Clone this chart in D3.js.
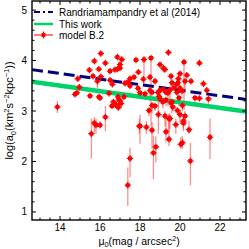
<!DOCTYPE html>
<html><head><meta charset="utf-8">
<script src="https://cdn.jsdelivr.net/npm/d3@7"></script>
<style>body{margin:0;background:#fff}svg{display:block}</style>
</head><body>
<script>
// Data (mu0, log a0, lower end of bar, upper end of bar)
const pointsX = [16.04,16.87,17.09,17.0,16.27,15.72,15.47,15.94,15.65,16.04,16.5,16.75,16.87,17.0,14.89,15.87,16.5,16.62,14.97,14.84,14.75,15.5,16.0,16.45,16.67,16.75,16.84,16.92,16.6,17.0,17.2,16.9,17.25,17.5,17.9,
17.8,18.2,18.55,19.42,19.0,19.17,19.24,20.2,20.97,17.92,18.17,17.7,17.5,17.4,18.5,18.75,19.55,20.0,20.34,19.92,20.25,20.55,21.17,19.84,19.6,19.9,19.17,19.5,19.7,19.85,20.0,20.1,20.75,21.34,21.42,
18.0,18.25,18.5,18.6,18.9,19.0,19.3,19.4,18.95,19.0,19.3,19.55,18.75,18.6,19.14,19.59,19.64,19.95,20.12,20.97,18.92,19.25,19.45,19.5,19.87,20.0,20.17,20.25,18.0,18.32,18.45,18.6,18.79,18.67,19.3,19.45,19.79,20.04,20.12,20.17,20.45,20.52,21.5,
13.87,15.57,15.72,15.8,16.0,16.27,17.5,17.39,17.97,15.95,16.95,17.05];
const pointsY = [4.14,4.07,4.02,3.92,3.95,3.99,3.81,3.83,3.69,3.68,3.79,3.82,3.83,3.85,3.64,3.59,3.61,3.53,3.47,3.36,3.33,3.30,3.26,3.35,3.18,3.14,3.10,3.07,3.10,3.20,3.28,3.28,3.55,3.50,3.45,
4.01,4.02,4.05,4.16,3.92,3.85,3.82,3.97,3.95,3.77,3.63,3.67,3.64,3.57,3.67,3.59,3.69,3.74,3.71,3.64,3.59,3.59,3.54,3.53,3.56,3.56,3.43,3.42,3.46,3.37,3.45,3.40,3.26,3.41,3.24,
3.36,3.34,3.41,3.37,3.37,3.41,3.37,3.36,3.29,3.24,3.22,3.16,3.10,3.11,3.18,3.18,3.08,3.26,3.11,3.25,2.93,2.90,2.85,2.85,3.01,2.93,2.80,2.90,2.70,2.68,3.01,2.62,2.29,2.17,2.59,2.44,2.73,2.34,2.37,2.76,2.63,2.01,2.48,
3.08,2.55,2.76,2.72,2.72,2.88,2.06,1.53,2.70,3.28,3.22,3.15];
const pointsLo = [4.10,4.03,3.98,3.88,3.91,3.95,3.77,3.79,3.65,3.64,3.75,3.78,3.79,3.81,3.60,3.45,3.57,3.49,3.43,3.32,3.29,3.26,3.22,3.31,3.14,3.10,3.06,3.03,3.06,3.16,3.24,3.24,3.51,3.46,3.41,
3.97,3.50,2.70,4.12,3.88,3.81,3.78,3.02,3.91,3.73,3.59,3.63,3.60,3.53,3.63,3.55,3.50,3.70,3.67,3.60,3.40,3.55,3.50,3.49,3.40,3.52,3.39,3.20,3.42,3.30,3.41,3.30,3.15,3.37,3.10,
3.32,3.30,3.20,3.33,3.20,3.37,3.33,3.10,3.25,3.20,3.10,3.05,3.00,2.95,3.05,2.95,3.00,3.10,3.00,3.21,2.55,2.70,2.60,2.65,2.97,2.75,2.65,2.70,2.35,2.55,2.90,2.25,1.98,1.65,2.38,2.30,2.55,2.25,2.25,2.60,2.55,1.53,2.05,
2.96,2.06,2.58,2.55,2.66,2.60,1.68,1.12,2.55,3.24,3.10,3.05];
const pointsHi = [4.18,4.11,4.06,3.96,3.99,4.03,3.85,3.87,3.73,3.72,3.83,3.86,3.87,3.89,3.68,3.63,3.65,3.57,3.51,3.40,3.37,3.34,3.30,3.39,3.22,3.18,3.14,3.11,3.14,3.24,3.32,3.32,3.59,3.54,3.49,
4.05,4.06,4.09,4.20,3.96,3.89,3.86,4.01,3.99,3.81,3.67,3.71,3.68,3.61,3.71,3.63,3.73,3.78,3.75,3.68,3.63,3.63,3.58,3.57,3.60,3.60,3.47,3.46,3.50,3.41,3.49,3.44,3.30,3.45,3.28,
3.40,3.38,3.45,3.41,3.41,3.45,3.41,3.40,3.33,3.28,3.26,3.20,3.14,3.15,3.22,3.22,3.12,3.30,3.15,3.29,3.30,3.00,2.95,2.95,3.05,3.00,2.90,3.00,2.93,2.80,3.05,2.78,2.50,2.50,2.92,2.80,2.85,2.48,2.50,2.90,2.80,2.37,2.85,
3.20,2.85,2.88,2.85,2.80,3.10,2.27,1.88,2.85,3.32,3.30,3.25];
// Fit lines: value at left and right edge
const lineX = [12.6, 23.3];
const randY = [3.82, 3.23];
const thisY = [3.58, 2.99];
const xTicks = [14,16,18,20,22];
const yTicks = [1,2,3,4,5];
const legendLabels = ["Randriamampandry et al (2014)","This work","model B.2"];

const W=249,H=249, m={l:32,r:3,t:1,b:29};
const svg=d3.select("body").append("svg").attr("width",W).attr("height",H)
  .style("font-family","'Liberation Sans',Arial,sans-serif");
const x=d3.scaleLinear().domain([12.6,23.3]).range([m.l,W-m.r]);
const y=d3.scaleLinear().domain([0.84,5.18]).range([H-m.b,m.t]);
const g=svg.append("g");

// error bars
const idx=d3.range(pointsX.length);
g.selectAll("line.eb").data(idx).join("line")
 .attr("x1",i=>x(pointsX[i])).attr("x2",i=>x(pointsX[i]))
 .attr("y1",i=>y(pointsLo[i])).attr("y2",i=>y(pointsHi[i]))
 .attr("stroke","#ff3030").attr("stroke-opacity",0.55).attr("stroke-width",1.3);
// fit lines
g.append("line").attr("x1",x(lineX[0])).attr("x2",x(lineX[1])).attr("y1",y(thisY[0])).attr("y2",y(thisY[1]))
 .attr("stroke","#00d26a").attr("stroke-width",4.5);
g.append("line").attr("x1",x(lineX[0])).attr("x2",x(lineX[1])).attr("y1",y(randY[0])).attr("y2",y(randY[1]))
 .attr("stroke","#00007f").attr("stroke-width",3).attr("stroke-dasharray","11,5");
// markers
const mk=g.selectAll("g.mk").data(idx).join("g").attr("transform",i=>`translate(${x(pointsX[i])},${y(pointsY[i])})`);
mk.append("rect").attr("x",-2).attr("y",-2).attr("width",4).attr("height",4).attr("fill","#ff0000");
mk.append("line").attr("x1",-3.2).attr("x2",3.2).attr("stroke","#ff0000").attr("stroke-width",1.2);
mk.append("line").attr("y1",-3.2).attr("y2",3.2).attr("stroke","#ff0000").attr("stroke-width",1.2);

// axes frame & ticks
const x0=m.l,x1=W-m.r,y0=m.t,y1=H-m.b;
svg.append("rect").attr("x",x0).attr("y",y0).attr("width",x1-x0).attr("height",y1-y0)
 .attr("fill","none").attr("stroke","#000").attr("stroke-width",1.4);
const xMinor=d3.range(13,23.5,0.5).filter(v=>!xTicks.includes(v));
const yMinor=d3.range(1,5.2,0.2).map(v=>+v.toFixed(1)).filter(v=>!yTicks.includes(v));
function tk(arr,len){
 arr.forEach(v=>{
  svg.append("line").attr("x1",x(v)).attr("x2",x(v)).attr("y1",y1).attr("y2",y1-len).attr("stroke","#000");
  svg.append("line").attr("x1",x(v)).attr("x2",x(v)).attr("y1",y0).attr("y2",y0+len).attr("stroke","#000");
 });
}
function tky(arr,len){
 arr.forEach(v=>{
  svg.append("line").attr("y1",y(v)).attr("y2",y(v)).attr("x1",x0).attr("x2",x0+len).attr("stroke","#000");
  svg.append("line").attr("y1",y(v)).attr("y2",y(v)).attr("x1",x1).attr("x2",x1-len).attr("stroke","#000");
 });
}
tk(xTicks,4);tk(xMinor,2.5);tky(yTicks,4);tky(yMinor,2.5);
svg.selectAll("text.xt").data(xTicks).join("text").attr("x",d=>x(d)).attr("y",y1+11)
 .attr("text-anchor","middle").attr("font-size",10).text(d=>d);
svg.selectAll("text.yt").data(yTicks).join("text").attr("x",x0-5).attr("y",d=>y(d)+3.5)
 .attr("text-anchor","end").attr("font-size",10).text(d=>d);

// axis labels
const xl=svg.append("text").attr("x",(x0+x1)/2).attr("y",H-4.5).attr("text-anchor","middle").attr("font-size",10.5);
xl.append("tspan").text("μ");
xl.append("tspan").attr("font-size",7.5).attr("dy",2.5).text("0");
xl.append("tspan").attr("dy",-2.5).text("(mag / arcsec");
xl.append("tspan").attr("font-size",7).attr("dy",-3.5).text("2");
xl.append("tspan").attr("dy",3.5).text(")");
const yl=svg.append("text").attr("transform",`translate(13,${(y0+y1)/2}) rotate(-90)`).attr("text-anchor","middle").attr("font-size",11);
yl.append("tspan").text("log(a");
yl.append("tspan").attr("font-size",7.5).attr("dy",2.5).text("0");
yl.append("tspan").attr("dy",-2.5).text("(km");
yl.append("tspan").attr("font-size",7.5).attr("dy",-4).text("2");
yl.append("tspan").attr("dy",4).text("s");
yl.append("tspan").attr("font-size",7.5).attr("dy",-4).text("−2");
yl.append("tspan").attr("dy",4).text("kpc");
yl.append("tspan").attr("font-size",7.5).attr("dy",-4).text("−1");
yl.append("tspan").attr("dy",4).text("))");

// legend
const lg=svg.append("g");
const ly=[12,24,35];
lg.append("line").attr("x1",34).attr("x2",53).attr("y1",ly[0]).attr("y2",ly[0]).attr("stroke","#00007f").attr("stroke-width",2.2).attr("stroke-dasharray","6,3,2,3");
lg.append("line").attr("x1",34).attr("x2",53).attr("y1",ly[1]).attr("y2",ly[1]).attr("stroke","#00d26a").attr("stroke-width",2.5);
lg.append("line").attr("x1",34).attr("x2",53).attr("y1",ly[2]).attr("y2",ly[2]).attr("stroke","#ff3030").attr("stroke-width",1.3);
lg.append("rect").attr("x",41.5).attr("y",ly[2]-2).attr("width",4).attr("height",4).attr("fill","#ff0000");
lg.append("line").attr("x1",43.5).attr("x2",43.5).attr("y1",ly[2]-3.5).attr("y2",ly[2]+3.5).attr("stroke","#ff0000").attr("stroke-width",1.2);
lg.selectAll("text").data(legendLabels).join("text").attr("x",59).attr("y",(d,i)=>ly[i]+3.5).attr("font-size",10).text(d=>d);
</script>
</body></html>
